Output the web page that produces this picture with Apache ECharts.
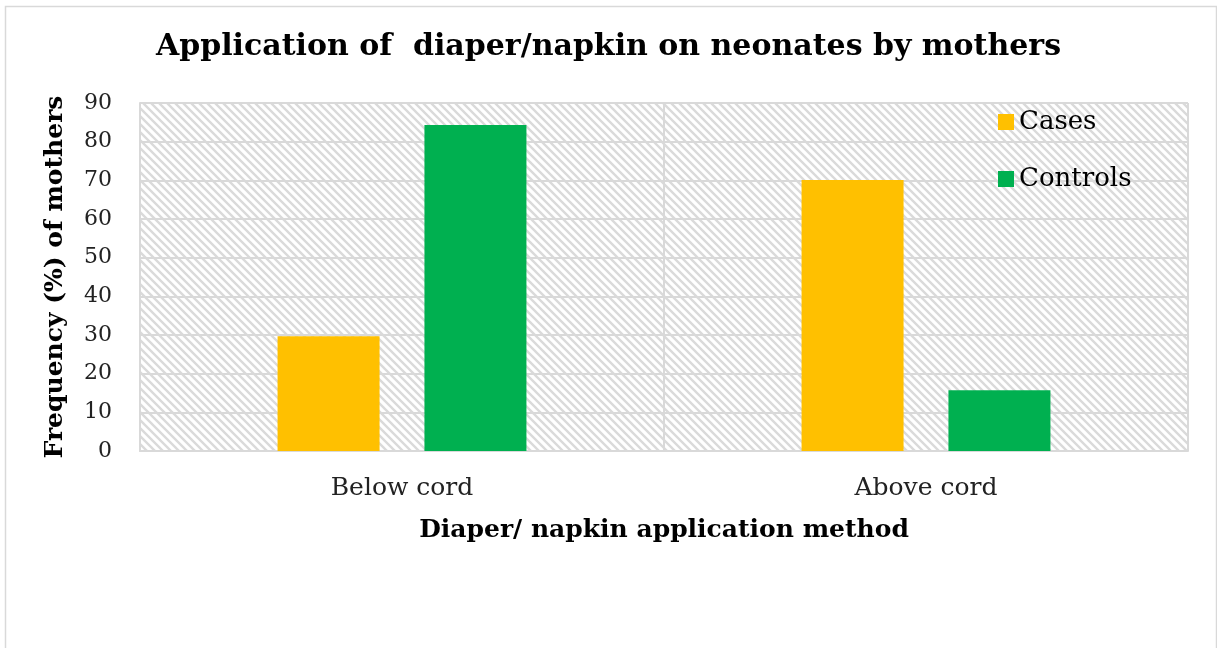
<!DOCTYPE html>
<html>
<head>
<meta charset="utf-8">
<script src="https://cdn.jsdelivr.net/npm/echarts@6/dist/echarts.min.js"></script>
<style>
html,body{margin:0;padding:0;background:#fff;}
#c{width:1217px;height:648px;}
</style>
</head>
<body>
<div id="c"></div>
<script>
const categories = ['Below cord', 'Above cord'];
const casesValues = [29.7, 70.1];
const controlsValues = [84.3, 15.7];
const yTicks = [0, 10, 20, 30, 40, 50, 60, 70, 80, 90];

const FONT = '"DejaVu Serif", "Liberation Serif", serif';

// hatch pattern
const pc = document.createElement('canvas');
pc.width = 8; pc.height = 8;
const g = pc.getContext('2d');
g.fillStyle = '#ffffff';
g.fillRect(0, 0, 8, 8);
g.strokeStyle = '#dadada';
g.lineWidth = 2.4;
g.beginPath();
g.moveTo(-2, -2); g.lineTo(10, 10);
g.moveTo(-10, -2); g.lineTo(2, 10);
g.moveTo(6, -2); g.lineTo(18, 10);
g.stroke();

const chart = echarts.init(document.getElementById('c'), null, {renderer: 'canvas'});
chart.setOption({
  animation: false,
  backgroundColor: '#ffffff',
  graphic: [{
    type: 'rect', left: 3, top: 4, z: -10,
    shape: {width: 1211, height: 660},
    style: {fill: 'none', stroke: '#d9d9d9', lineWidth: 1.5}
  }],
  title: {
    text: 'Application of  diaper/napkin on neonates by mothers',
    left: 'center', top: 27,
    textStyle: {fontFamily: FONT, fontWeight: 'bold', fontSize: 30, color: '#000'}
  },
  legend: {
    orient: 'vertical', left: 993, top: 104,
    itemWidth: 16, itemHeight: 16, itemGap: 31,
    icon: 'rect',
    textStyle: {fontFamily: FONT, fontSize: 26, color: '#000', padding: [0, 0, 0, 0]},
    data: ['Cases', 'Controls']
  },
  grid: {
    left: 140, right: 29, top: 103, bottom: 197,
    show: true, borderWidth: 0,
    backgroundColor: {image: pc, repeat: 'repeat'}
  },
  xAxis: {
    type: 'category', data: categories,
    name: 'Diaper/ napkin application method',
    nameLocation: 'middle', nameGap: 67,
    nameTextStyle: {fontFamily: FONT, fontWeight: 'bold', fontSize: 25, color: '#000'},
    axisLine: {show: true, lineStyle: {color: '#d9d9d9', width: 2}},
    axisTick: {show: false},
    splitLine: {show: true, lineStyle: {color: '#d9d9d9', width: 2}},
    axisLabel: {fontFamily: FONT, fontSize: 25, color: '#222', margin: 25}
  },
  yAxis: {
    type: 'value', min: 0, max: 90, interval: 10,
    name: 'Frequency (%) of mothers',
    nameLocation: 'middle', nameGap: 72,
    nameTextStyle: {fontFamily: FONT, fontWeight: 'bold', fontSize: 25, color: '#000'},
    axisLine: {show: true, lineStyle: {color: '#d9d9d9', width: 2}},
    axisTick: {show: false},
    splitLine: {show: true, lineStyle: {color: '#d9d9d9', width: 2}},
    axisLabel: {fontFamily: FONT, fontSize: 22, color: '#222', margin: 28,
      formatter: v => yTicks.includes(v) ? String(v) : ''}
  },
  series: [
    {name: 'Cases', type: 'bar', data: casesValues, itemStyle: {color: '#FFC000'},
     barWidth: 102, barGap: '44%'},
    {name: 'Controls', type: 'bar', data: controlsValues, itemStyle: {color: '#00B050'},
     barWidth: 102, barGap: '44%'}
  ]
});
</script>
</body>
</html>
